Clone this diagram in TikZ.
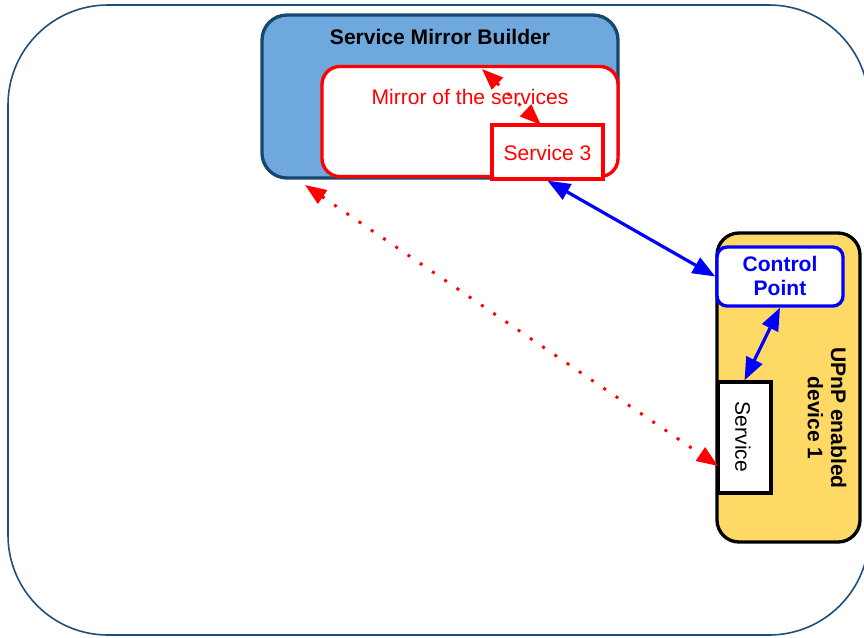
\documentclass[tikz,border=0pt]{standalone}
\usepackage{fontspec}
\setmainfont{Liberation Sans}
\usetikzlibrary{arrows.meta}
\definecolor{frameblue}{HTML}{1F4E79}
\definecolor{builderfill}{HTML}{6FA8DC}
\definecolor{builderline}{HTML}{17466E}
\definecolor{devicefill}{HTML}{FFD966}
\tikzset{
  lbl/.style={font=\fontsize{15.8}{17.5}\selectfont, inner sep=0pt, align=center},
  boldlbl/.style={lbl, font=\fontsize{15.8}{17.5}\selectfont\bfseries},
  builder/.style={draw=builderline, fill=builderfill, line width=2.5pt,
    rounded corners=18.75pt, minimum width=356*0.75pt, minimum height=163*0.75pt},
  mirrorbox/.style={draw=red, fill=white, line width=2.5pt,
    rounded corners=13.5pt, minimum width=296*0.75pt, minimum height=110*0.75pt},
  servbox/.style={draw=red, fill=white, line width=2.5pt,
    minimum width=111*0.75pt, minimum height=54*0.75pt},
  devbox/.style={draw=black, fill=devicefill, line width=2.5pt,
    rounded corners=16.5pt, minimum width=143*0.75pt, minimum height=309*0.75pt},
  cpbox/.style={draw=blue, fill=white, line width=2.5pt,
    rounded corners=7.5pt, minimum width=126*0.75pt, minimum height=59*0.75pt},
  localsvc/.style={draw=black, fill=white, line width=2.5pt,
    minimum width=53*0.75pt, minimum height=111*0.75pt},
  bluelink/.style={draw=blue, line width=2.4pt,
    {Triangle[length=17pt,width=13pt]}-{Triangle[length=17pt,width=13pt]}},
  redlink/.style={draw=red, line width=2.2pt, dash pattern=on 2.2pt off 8.9pt,
    {Triangle[length=16pt,width=12pt]}-{Triangle[length=16pt,width=12pt]}},
}
\begin{document}
\begin{tikzpicture}[x=0.75pt, y=-0.75pt]
  \useasboundingbox (0,0) rectangle (864,637);
  \clip (0,0) rectangle (864,637);

  % outer frame
  \node[draw=frameblue, line width=1.2pt, rounded corners=75pt,
        minimum width=861*0.75pt, minimum height=630*0.75pt] (frame) at (438.5,320) {};

  % service mirror builder
  \node[builder] (smb) at (440,96.5) {};
  \node[boldlbl] (smbtitle) at (440,37) {Service Mirror Builder};
  \node[mirrorbox] (mirror) at (470,121.5) {};
  \node[lbl, text=red] (mirrortext) at (470,97) {Mirror of the services};
  \node[servbox] (s3) at (547.5,152) {};
  \node[lbl, text=red] (s3text) at (547.5,153) {Service 3};

  % UPnP device
  \node[devbox] (dev) at (788.5,387.5) {};
  \node[cpbox] (cp) at (780,276.5) {};
  \node[boldlbl, text=blue] (cptext) at (780,276) {Control\\Point};
  \node[localsvc] (svc) at (744.5,437.5) {};
  \node[lbl, rotate=-90] (svctext) at (743,437) {Service};
  \node[boldlbl, rotate=-90] (devtext) at (827,418) {UPnP enabled\\device 1};

  % connector end points
  \coordinate (mirA) at (482,69);
  \coordinate (mirB) at (541,125);
  \coordinate (smbout) at (305,185);
  \coordinate (svcin) at (718,466);

  % connectors
  \draw[redlink] (mirA) -- (mirB);
  \draw[bluelink] (s3.south) -- (cp.west);
  \draw[bluelink] (cp.south) -- (svc.north);
  \draw[redlink] (smbout) -- (svcin);
\end{tikzpicture}
\end{document}
